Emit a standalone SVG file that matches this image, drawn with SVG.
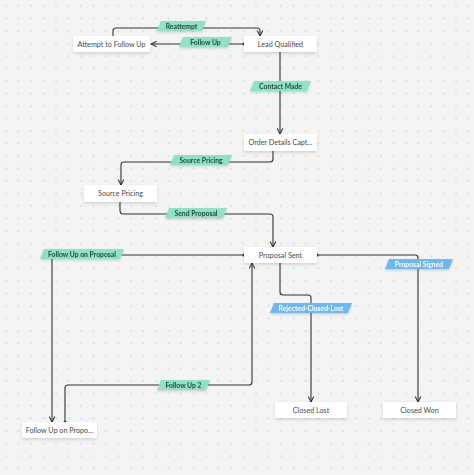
<svg xmlns="http://www.w3.org/2000/svg" width="474" height="475" viewBox="0 0 474 475">
<style>
.node rect{fill:#fff;filter:url(#sh)}
.node text{font-family:Lato,"Liberation Sans",sans-serif;font-size:7.2px;fill:#4a4a4a;text-anchor:middle;dominant-baseline:central}
.edge{fill:none;stroke:#333;stroke-width:1.1}
.lab text{font-family:Lato,"Liberation Sans",sans-serif;font-size:6.8px;font-weight:bold;text-anchor:middle;dominant-baseline:central}
.g polygon{fill:#8ee3c6}
.g text{fill:#24463b}
.b polygon{fill:#6cb8f3}
.b text{fill:#fff}
.dot{fill:#333}
</style>
<defs>
<pattern id="grid" width="12.5" height="12.5" patternUnits="userSpaceOnUse">
<circle cx="6" cy="6" r="0.8" fill="#c2c2c2"/>
</pattern>
<filter id="sh" x="-20%" y="-40%" width="140%" height="200%">
<feDropShadow dx="0" dy="1.5" stdDeviation="1.5" flood-color="#000" flood-opacity="0.15"/>
</filter>
<filter id="lsh" x="-20%" y="-40%" width="140%" height="200%">
<feDropShadow dx="0" dy="1.5" stdDeviation="1.2" flood-color="#000" flood-opacity="0.15"/>
</filter>
<marker id="arr" viewBox="0 0 10 10" refX="9" refY="5" markerWidth="7" markerHeight="7" orient="auto" markerUnits="userSpaceOnUse">
<path d="M1,1 L9,5 L1,9" fill="none" stroke="#333" stroke-width="1.5"/>
</marker>
</defs>
<rect width="474" height="475" fill="#f4f4f4"/>
<rect width="474" height="475" fill="url(#grid)"/>

<g id="connectors">
<path class="edge" d="M113,36 V31 Q113,28 116,28 H257 Q260,28 260,31 V36" marker-end="url(#arr)"/>
<path class="edge" d="M244,44 H151" marker-end="url(#arr)"/>
<circle class="dot" cx="244" cy="44" r="1.5"/>
<path class="edge" d="M280,52 V134" marker-end="url(#arr)"/>
<path class="edge" d="M273,151 V159 Q273,162 270,162 H124 Q121,162 121,165 V185" marker-end="url(#arr)"/>
<path class="edge" d="M120,202 V210 Q120,214 123,214 H270 Q273,214 273,217 V247" marker-end="url(#arr)"/>
<path class="edge" d="M244,255 H55 Q52,255 52,258 V422" marker-end="url(#arr)"/>
<circle class="dot" cx="244" cy="255" r="1.5"/>
<path class="edge" d="M65,422 V388 Q65,385 68,385 H249 Q252,385 252,382 V263" marker-end="url(#arr)"/>
<circle class="dot" cx="65" cy="422" r="1.5"/>
<path class="edge" d="M317,255 H415 Q418,255 418,258 V402" marker-end="url(#arr)"/>
<circle class="dot" cx="317" cy="255" r="1.5"/>
<path class="edge" d="M280,263 V292 Q280,295 283,295 H308 Q311,295 311,298 V402" marker-end="url(#arr)"/>
</g>

<g id="labels">
<g class="lab g" filter="url(#lsh)"><polygon points="161,21 206,21 202,31 157,31"/><text x="181.5" y="26">Reattempt</text></g>
<g class="lab g" filter="url(#lsh)"><polygon points="183,37 232,37 228,47 179,47"/><text x="205.5" y="42">Follow Up</text></g>
<g class="lab g" filter="url(#lsh)"><polygon points="254,81 311,81 307,91 250,91"/><text x="280.5" y="86">Contact Made</text></g>
<g class="lab g" filter="url(#lsh)"><polygon points="174,155 232,155 228,165 170,165"/><text x="201" y="160">Source Pricing</text></g>
<g class="lab g" filter="url(#lsh)"><polygon points="169,208 227,208 223,218 165,218"/><text x="196" y="213">Send Proposal</text></g>
<g class="lab g" filter="url(#lsh)"><polygon points="44,249 124,249 120,259 40,259"/><text x="82" y="254">Follow Up on Proposal</text></g>
<g class="lab g" filter="url(#lsh)"><polygon points="161,380 210,380 206,390 157,390"/><text x="183.5" y="385">Follow Up 2</text></g>
<g class="lab b" filter="url(#lsh)"><polygon points="389,259 453,259 449,269 385,269"/><text x="419" y="264">Proposal Signed</text></g>
<g class="lab b" filter="url(#lsh)"><polygon points="274,303 352,303 348,313 270,313"/><text x="311" y="308">Rejected-Closed-Lost</text></g>
</g>

<g id="n-attempt" class="node"><rect x="73" y="36" width="77" height="16"/><text x="111.5" y="44">Attempt to Follow Up</text></g>
<g id="n-lead" class="node"><rect x="244" y="36" width="73" height="16"/><text x="280.5" y="44">Lead Qualified</text></g>
<g id="n-order" class="node"><rect x="244" y="134" width="73" height="17"/><text x="280.5" y="142.5">Order Details Capt...</text></g>
<g id="n-source" class="node"><rect x="84" y="185" width="73" height="17"/><text x="120.5" y="193.5">Source Pricing</text></g>
<g id="n-proposal" class="node"><rect x="244" y="247" width="73" height="16"/><text x="280.5" y="255">Proposal Sent</text></g>
<g id="n-followup" class="node"><rect x="22" y="422" width="75" height="16"/><text x="59.5" y="430">Follow Up on Propo...</text></g>
<g id="n-lost" class="node"><rect x="275" y="402" width="72" height="16"/><text x="311" y="410">Closed Lost</text></g>
<g id="n-won" class="node"><rect x="383" y="402" width="73" height="16"/><text x="419.5" y="410">Closed Won</text></g>
</svg>
